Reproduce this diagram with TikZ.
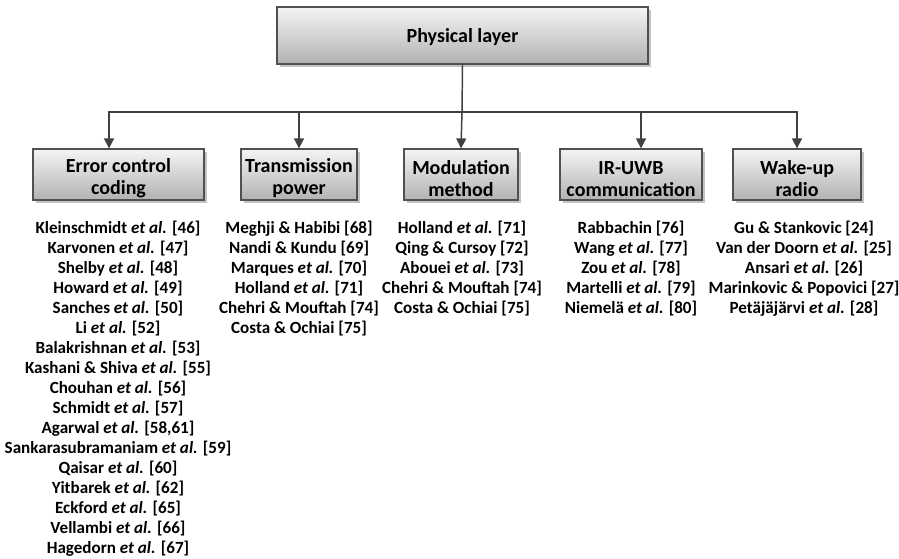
\documentclass[tikz,border=0pt]{standalone}
\usepackage{fontspec}
\setmainfont{Carlito}
\usetikzlibrary{arrows.meta,shadows}

\definecolor{boxtop}{RGB}{244,244,244}
\definecolor{boxbot}{RGB}{178,178,178}
\definecolor{boxline}{RGB}{80,80,80}
\definecolor{wire}{RGB}{64,64,64}
\definecolor{shade}{RGB}{195,195,195}

\newcommand{\etal}{{\itshape et al.}}
% strut that lowers a two-line title slightly inside its box
\newcommand{\tstrut}{\rule{0pt}{16pt}}

\tikzset{
  catbox/.style={draw=boxline, line width=0.9pt, top color=boxtop, bottom color=boxbot,
    drop shadow={shadow xshift=2.2pt, shadow yshift=-2.2pt, fill=shade, opacity=1},
    inner sep=0pt, align=center, font=\bfseries\fontsize{15}{16.5}\selectfont},
  reflist/.style={anchor=north, inner sep=0pt, align=center,
    font=\bfseries\fontsize{12.8}{15}\selectfont},
  wireline/.style={draw=wire, line width=1.1pt},
  arrowline/.style={wireline, -{Triangle[length=7.5pt,width=7.5pt]}}
}

\begin{document}
\begin{tikzpicture}[x=0.75pt, y=-0.75pt]
\useasboundingbox (0,0) rectangle (899,559);

% root and category boxes
\node[catbox, minimum width=278.25pt, minimum height=42.75pt] (root) at (462.5,35.5) {\rule{0pt}{13pt}Physical layer};
\node[catbox, minimum width=128.25pt, minimum height=38.25pt] (ecc) at (118.5,174.5) {\tstrut Error control\\coding};
\node[catbox, minimum width=87pt, minimum height=38.25pt] (tp) at (299,174.5) {\tstrut Transmission\\power};
\node[catbox, minimum width=85.5pt, minimum height=38.25pt] (mm) at (461,174.5) {\tstrut Modulation\\method};
\node[catbox, minimum width=106.5pt, minimum height=38.25pt] (uwb) at (631,174.5) {\tstrut IR-UWB\\communication};
\node[catbox, minimum width=96pt, minimum height=38.25pt] (wur) at (797,174.5) {\tstrut Wake-up\\radio};

% horizontal bus joining the trunk
\coordinate (bus) at (462,112);
\draw[wireline] (root.south) -- (bus);
\draw[arrowline] (bus) -| ([xshift=-7.1pt]ecc.north);
\draw[arrowline] (bus) -| (tp.north);
\draw[arrowline] (bus) -- (mm.north);
\draw[arrowline] (bus) -| ([xshift=7.5pt]uwb.north);
\draw[arrowline] (bus) -| (wur.north);

% reference lists
\node[reflist] (eccrefs) at (118,221) {Kleinschmidt \etal{} [46]\\Karvonen \etal{} [47]\\Shelby \etal{} [48]\\Howard \etal{} [49]\\Sanches \etal{} [50]\\Li \etal{} [52]\\Balakrishnan \etal{} [53]\\Kashani \& Shiva \etal{} [55]\\Chouhan \etal{} [56]\\Schmidt \etal{} [57]\\Agarwal \etal{} [58,61]\\Sankarasubramaniam \etal{} [59]\\Qaisar \etal{} [60]\\Yitbarek \etal{} [62]\\Eckford \etal{} [65]\\Vellambi \etal{} [66]\\Hagedorn \etal{} [67]};
\node[reflist] (tprefs) at (299,221) {Meghji \& Habibi [68]\\Nandi \& Kundu [69]\\Marques \etal{} [70]\\Holland \etal{} [71]\\Chehri \& Mouftah [74]\\Costa \& Ochiai [75]};
\node[reflist] (mmrefs) at (462,221) {Holland \etal{} [71]\\Qing \& Cursoy [72]\\Abouei \etal{} [73]\\Chehri \& Mouftah [74]\\Costa \& Ochiai [75]};
\node[reflist] (uwbrefs) at (631,221) {Rabbachin [76]\\Wang \etal{} [77]\\Zou \etal{} [78]\\Martelli \etal{} [79]\\Niemelä \etal{} [80]};
\node[reflist] (wurrefs) at (804,221) {Gu \& Stankovic [24]\\Van der Doorn \etal{} [25]\\Ansari \etal{} [26]\\Marinkovic \& Popovici [27]\\Petäjäjärvi \etal{} [28]};
\end{tikzpicture}
\end{document}
